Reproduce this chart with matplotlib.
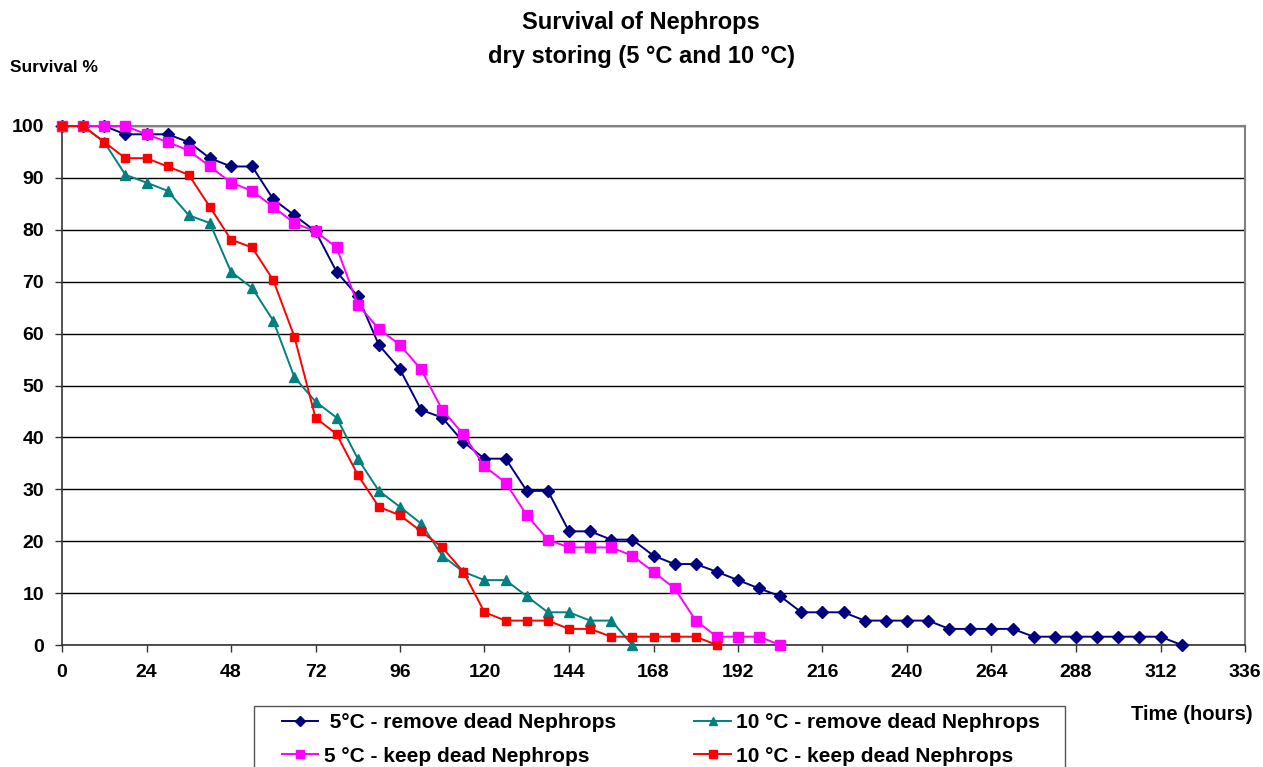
import matplotlib
matplotlib.use("Agg")
import matplotlib.pyplot as plt
from matplotlib.patches import Rectangle

plt.rcParams['font.family'] = ['Liberation Sans', 'DejaVu Sans']
plt.rcParams['font.weight'] = 'bold'

hours_5_remove = list(range(0, 319, 6))
surv_5_remove = [100, 100, 100, 98.4, 98.4, 98.4, 96.9, 93.8, 92.2, 92.2,
                 85.9, 82.8, 79.7, 71.9, 67.2, 57.8, 53.1, 45.3, 43.8, 39.1,
                 35.9, 35.9, 29.7, 29.7, 21.9, 21.9, 20.3, 20.3, 17.2, 15.6,
                 15.6, 14.1, 12.5, 10.9, 9.4, 6.3, 6.3, 6.3, 4.7, 4.7,
                 4.7, 4.7, 3.1, 3.1, 3.1, 3.1, 1.6, 1.6, 1.6, 1.6,
                 1.6, 1.6, 1.6, 0]

hours_10_remove = list(range(0, 163, 6))
surv_10_remove = [100, 100, 96.9, 90.6, 89.1, 87.5, 82.8, 81.3, 71.9, 68.8,
                  62.5, 51.6, 46.9, 43.8, 35.9, 29.7, 26.6, 23.4, 17.2, 14.1,
                  12.5, 12.5, 9.4, 6.3, 6.3, 4.7, 4.7, 0]

hours_5_keep = list(range(0, 205, 6))
surv_5_keep = [100, 100, 100, 100, 98.4, 96.9, 95.3, 92.2, 89.1, 87.5,
               84.4, 81.3, 79.7, 76.6, 65.6, 60.9, 57.8, 53.1, 45.3, 40.6,
               34.4, 31.3, 25.0, 20.3, 18.8, 18.8, 18.8, 17.2, 14.1, 10.9,
               4.7, 1.6, 1.6, 1.6, 0]

hours_10_keep = list(range(0, 187, 6))
surv_10_keep = [100, 100, 96.9, 93.8, 93.8, 92.2, 90.6, 84.4, 78.1, 76.6,
                70.3, 59.4, 43.8, 40.6, 32.8, 26.6, 25.0, 21.9, 18.8, 14.1,
                6.3, 4.7, 4.7, 4.7, 3.1, 3.1, 1.6, 1.6, 1.6, 1.6,
                1.6, 0]

labels = [" 5°C - remove dead Nephrops", "5 °C - keep dead Nephrops",
          "10 °C - remove dead Nephrops", "10 °C - keep dead Nephrops"]
x_ticks = list(range(0, 337, 24))
y_ticks = list(range(0, 101, 10))

W, H = 1263, 767
fig = plt.figure(figsize=(W / 100, H / 100), dpi=100)
ax = fig.add_axes([62 / W, 1 - 645 / H, (1245 - 62) / W, (645 - 126) / H])

ax.yaxis.grid(True, color='black', linewidth=1.0, zorder=0)
ax.set_axisbelow(True)

l1, = ax.plot(hours_5_remove, surv_5_remove, color='#000080', marker='D',
              markersize=6.5, linewidth=1.4, zorder=3)
l3, = ax.plot(hours_10_remove, surv_10_remove, color='#008080', marker='^',
              markersize=7.5, linewidth=1.4, zorder=3)
l2, = ax.plot(hours_5_keep, surv_5_keep, color='#FF00FF', marker='s',
              markersize=7.5, linewidth=1.4, zorder=4)
l4, = ax.plot(hours_10_keep, surv_10_keep, color='#FF0000', marker='s',
              markersize=5.5, linewidth=1.4, zorder=5)

ax.set_xlim(0, 336)
ax.set_ylim(0, 100)
ax.set_xticks(x_ticks)
ax.set_yticks(y_ticks)
ax.tick_params(axis='both', labelsize=14, length=5, width=1, color='#333333')
ax.tick_params(axis='x', pad=9)
ax.tick_params(axis='y', pad=8)
for lab in ax.get_xticklabels() + ax.get_yticklabels():
    lab.set_fontweight('bold')

for s in ['left', 'bottom']:
    ax.spines[s].set_color('#333333')
    ax.spines[s].set_linewidth(1.2)
for s in ['top', 'right']:
    ax.spines[s].set_color('#808080')
    ax.spines[s].set_linewidth(1.5)
for ln in (l1, l2, l3, l4):
    ln.set_clip_on(False)

fig.text(641 / W, 1 - 22 / H, "Survival of Nephrops", ha='center', va='center',
         fontsize=17, fontweight='bold')
fig.text(641 / W, 1 - 57 / H, "dry storing (5 °C and 10 °C)", ha='center', va='center',
         fontsize=17, fontweight='bold')
fig.text(10 / W, 1 - 68 / H, "Survival %", ha='left', va='center',
         fontsize=12.5, fontweight='bold')
fig.text(1253 / W, 1 - 715 / H, "Time (hours)", ha='right', va='center',
         fontsize=14.5, fontweight='bold')

# legend frame (extends beyond the bottom edge, as in the reference)
fig.patches.append(Rectangle((254 / W, 1 - 800 / H), (1065 - 254) / W, (800 - 706) / H,
                             transform=fig.transFigure, facecolor='white',
                             edgecolor='#555555', linewidth=1.0, zorder=1))

leg = fig.legend([l1, l2, l3, l4], labels, ncol=2, loc='upper left',
                 bbox_to_anchor=(282 / W, 1 - 713 / H, (1040 - 282) / W, 0.0),
                 mode='expand', frameon=False, handlelength=1.75,
                 handletextpad=0.25, labelspacing=0.7, borderaxespad=0,
                 borderpad=0, prop={'weight': 'bold', 'size': 15})
leg.set_zorder(2)
for h in leg.legend_handles:
    h.set_markersize(5.5)

fig.savefig("out.png", dpi=100)
